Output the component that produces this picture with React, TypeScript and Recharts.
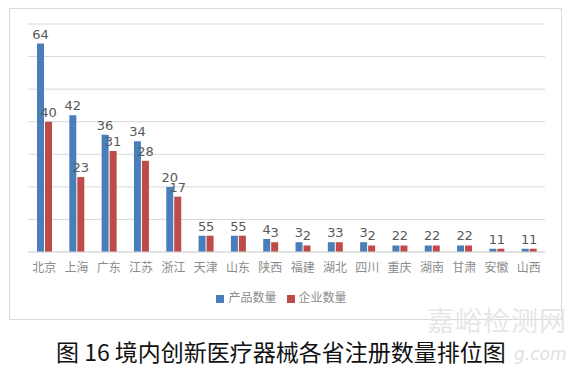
import { BarChart, Bar, XAxis, YAxis, CartesianGrid, Legend, LabelList } from 'recharts'

const provinces = ['北京', '上海', '广东', '江苏', '浙江', '天津', '山东', '陕西', '福建', '湖北', '四川', '重庆', '湖南', '甘肃', '安徽', '山西']
const productCounts = [64, 42, 36, 34, 20, 5, 5, 4, 3, 3, 3, 2, 2, 2, 1, 1]
const companyCounts = [40, 23, 31, 28, 17, 5, 5, 3, 2, 3, 2, 2, 2, 2, 1, 1]
const yTicks = [0, 10, 20, 30, 40, 50, 60, 70]

const data = provinces.map((name, i) => ({
  name,
  product: productCounts[i],
  company: companyCounts[i],
}))

const CJK = '"Noto Sans CJK SC", "Noto Sans", sans-serif'

export default function App() {
  return (
    <div style={{ position: 'absolute', left: 0, top: 0, width: 576, height: 372, background: '#fff', overflow: 'hidden' }}>
      <div
        style={{
          position: 'absolute',
          left: 9,
          top: 8,
          width: 553,
          height: 312,
          border: '1px solid #d9d9d9',
          boxSizing: 'border-box',
        }}
      >
        <BarChart
          width={551}
          height={310}
          data={data}
          margin={{ top: 15, right: 16, left: 18, bottom: 7 }}
          barGap={1}
          barSize={7}
        >
          <CartesianGrid vertical={false} stroke="#d9d9d9" strokeWidth={1} />
          <YAxis hide domain={[0, 70]} ticks={yTicks} />
          <XAxis
            dataKey="name"
            axisLine={{ stroke: '#d9d9d9' }}
            tickLine={false}
            interval={0}
            height={36}
            dy={3}
            tick={{ fill: '#8c8c8c', fontSize: 12, fontFamily: CJK }}
          />
          <Legend
            verticalAlign="bottom"
            iconType="square"
            iconSize={8}
            height={24}
            wrapperStyle={{ fontFamily: CJK, fontSize: 12, color: '#8c8c8c' }}
            formatter={(v) => <span style={{ color: '#8c8c8c' }}>{v}</span>}
          />
          <Bar dataKey="product" name="产品数量" fill="#4a7ebb" isAnimationActive={false}>
            <LabelList dataKey="product" position="top" fill="#595959" fontSize={13} fontFamily="DejaVu Sans, sans-serif" />
          </Bar>
          <Bar dataKey="company" name="企业数量" fill="#be4b48" isAnimationActive={false}>
            <LabelList dataKey="company" position="top" fill="#595959" fontSize={13} fontFamily="DejaVu Sans, sans-serif" />
          </Bar>
        </BarChart>
      </div>
      <div
        style={{
          position: 'absolute',
          left: 427,
          top: 303,
          fontFamily: CJK,
          fontSize: 27,
          lineHeight: '34px',
          color: '#e6e6e6',
          letterSpacing: 1,
          whiteSpace: 'nowrap',
        }}
      >
        嘉峪检测网
      </div>
      <div
        style={{
          position: 'absolute',
          left: 514,
          top: 344,
          fontFamily: 'DejaVu Sans, sans-serif',
          fontStyle: 'italic',
          fontSize: 17,
          lineHeight: '20px',
          color: '#e0e0e0',
          whiteSpace: 'nowrap',
        }}
      >
        g.com
      </div>
      <div
        style={{
          position: 'absolute',
          left: 56,
          top: 337,
          fontFamily: CJK,
          fontSize: 23,
          lineHeight: '28px',
          color: '#111',
          whiteSpace: 'nowrap',
        }}
      >
        图 16 境内创新医疗器械各省注册数量排位图
      </div>
    </div>
  )
}
